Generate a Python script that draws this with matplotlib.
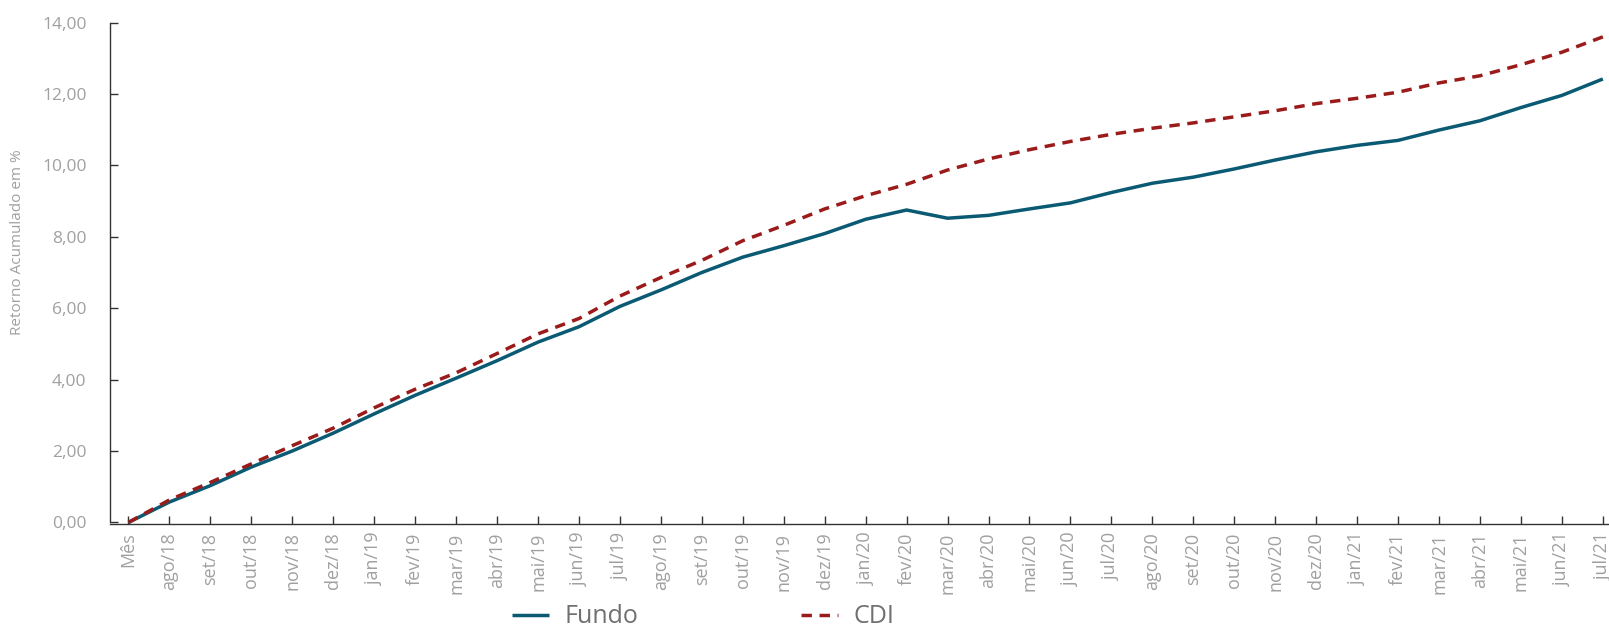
import matplotlib
matplotlib.use("Agg")
import matplotlib.pyplot as plt
from matplotlib.ticker import FuncFormatter

plt.rcParams['font.family'] = ['Open Sans', 'DejaVu Sans']

meses = ["Mês",
         "ago/18", "set/18", "out/18", "nov/18", "dez/18",
         "jan/19", "fev/19", "mar/19", "abr/19", "mai/19", "jun/19",
         "jul/19", "ago/19", "set/19", "out/19", "nov/19", "dez/19",
         "jan/20", "fev/20", "mar/20", "abr/20", "mai/20", "jun/20",
         "jul/20", "ago/20", "set/20", "out/20", "nov/20", "dez/20",
         "jan/21", "fev/21", "mar/21", "abr/21", "mai/21", "jun/21", "jul/21"]

fundo = [0.00,
         0.57, 1.03, 1.55, 2.00, 2.50,
         3.04, 3.56, 4.04, 4.53, 5.05, 5.48,
         6.05, 6.51, 7.00, 7.43, 7.75, 8.09,
         8.49, 8.75, 8.52, 8.60, 8.78, 8.95,
         9.24, 9.50, 9.67, 9.90, 10.15, 10.38,
         10.56, 10.70, 10.99, 11.25, 11.62, 11.96, 12.42]

cdi = [0.00,
       0.63, 1.12, 1.64, 2.15, 2.64,
       3.21, 3.73, 4.19, 4.73, 5.28, 5.71,
       6.34, 6.86, 7.34, 7.89, 8.32, 8.78,
       9.15, 9.47, 9.87, 10.18, 10.44, 10.67,
       10.87, 11.04, 11.19, 11.36, 11.53, 11.73,
       11.88, 12.05, 12.31, 12.51, 12.82, 13.17, 13.60]

cor_fundo = "#0b5a73"
cor_cdi = "#9b1b1b"
cinza = "#a0a0a0"

fig = plt.figure(figsize=(16.09, 6.27), dpi=100)
ax = fig.add_axes([0.0684, 0.164, 0.9316, 0.800])

x = list(range(len(meses)))
ax.plot(x, fundo, color=cor_fundo, lw=2.5, label="Fundo", solid_capstyle="butt")
ax.plot(x, cdi, color=cor_cdi, lw=2.5, ls=(0, (3, 2.2)), label="CDI")

ax.set_xlim(-0.45, 36.15)
ax.set_ylim(-0.05, 14)
ax.set_yticks([0, 2, 4, 6, 8, 10, 12, 14])
ax.yaxis.set_major_formatter(FuncFormatter(lambda v, p: f"{v:.2f}".replace(".", ",")))
ax.set_xticks(x)
ax.set_xticklabels(meses, rotation=90)

for s in ["top", "right"]:
    ax.spines[s].set_visible(False)
for s in ["left", "bottom"]:
    ax.spines[s].set_color("#333333")
    ax.spines[s].set_linewidth(1.0)
ax.spines["left"].set_bounds(0, 14)

ax.tick_params(axis="both", direction="in", length=6, color="#333333", width=1.0)
ax.tick_params(axis="y", labelsize=12.5, labelcolor=cinza, pad=17)
ax.tick_params(axis="x", labelsize=13, labelcolor=cinza, pad=6)

fig.text(0.0108, 0.614, "Retorno Acumulado em %", rotation=90, color=cinza,
         fontsize=11, ha="center", va="center")

leg = fig.legend(loc="center", bbox_to_anchor=(0.437, 0.016), ncol=2,
                 frameon=False, fontsize=18, handlelength=1.5, columnspacing=6.5,
                 handletextpad=0.6)
for t in leg.get_texts():
    t.set_color("#707070")

fig.savefig("out.png", dpi=100)
